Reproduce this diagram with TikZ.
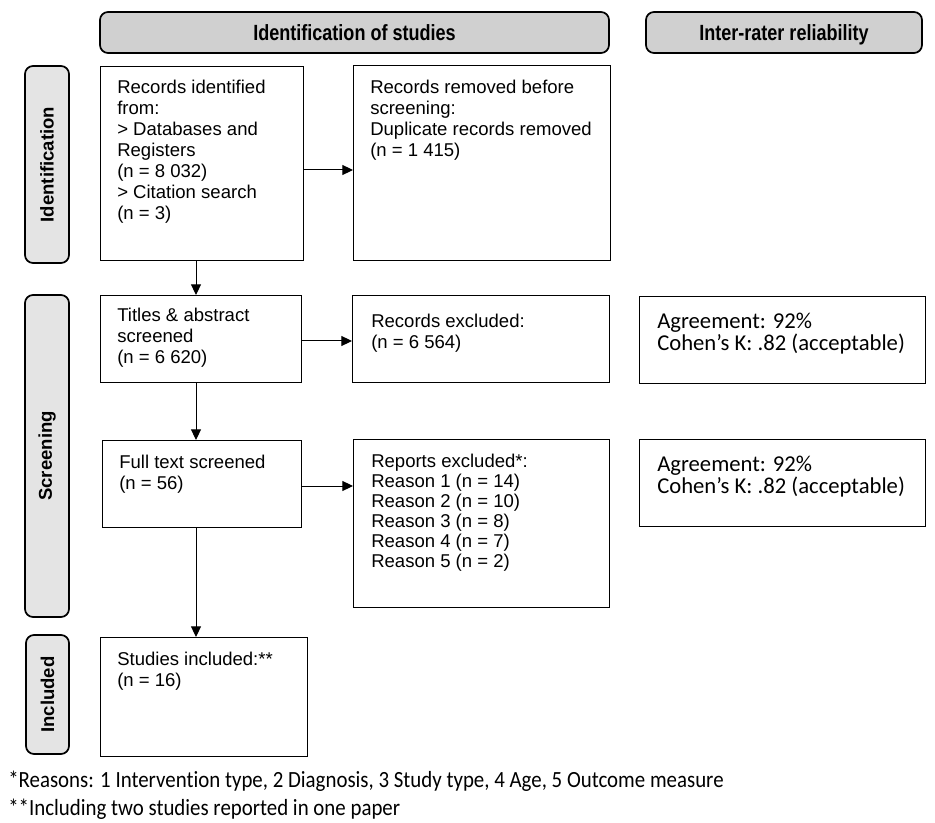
\documentclass[tikz,border=0pt]{standalone}
\usepackage{fontspec}
\setmainfont{Liberation Sans}
\newfontfamily\headfam[FakeStretch=0.82]{Liberation Sans}
\newfontfamily\calfam[Ligatures=CommonOff]{Carlito}
\newfontfamily\notefam[FakeStretch=0.9,Ligatures=CommonOff]{Carlito}
\usetikzlibrary{arrows.meta,positioning}

\definecolor{headgray}{RGB}{208,208,208}
\definecolor{sidegray}{RGB}{228,228,228}
\newcommand\pxu{0.75pt}

\tikzset{
  box/.style={draw, line width=1.1pt, anchor=north west, inner sep=0pt},
  boxtext/.style={anchor=north west, inner sep=0pt, align=left,
    font=\fontsize{13.9pt}{15.75pt}\selectfont},
  irrtext/.style={anchor=north west, inner sep=0pt, align=left,
    font=\calfam\fontsize{17pt}{16.5pt}\selectfont},
  header/.style={draw, line width=1.3pt, rounded corners=6pt, fill=headgray,
    text height=11.8pt, text depth=0pt,
    font=\headfam\bfseries\fontsize{16.5pt}{19pt}\selectfont},
  side/.style={draw, line width=1.3pt, rounded corners=6pt, fill=sidegray, rotate=90,
    font=\bfseries\fontsize{13.9pt}{16pt}\selectfont},
  flow/.style={-{Triangle[length=8pt,width=7.5pt]}, line width=0.75pt},
  note/.style={anchor=base west, inner sep=0pt,
    font=\notefam\fontsize{17.4pt}{20pt}\selectfont}
}

\begin{document}
\begin{tikzpicture}[x=0.75pt, y=-0.75pt]
  \useasboundingbox (0,0) rectangle (935,823);

  % column headers
  \node[header, minimum width=509*\pxu, minimum height=41*\pxu] (headid) at (354.5,32.5) {Identification of studies};
  \node[header, minimum width=276*\pxu, minimum height=41*\pxu] (headirr) at (784,32.5) {Inter-rater reliability};

  % phase labels
  \node[side, minimum width=197*\pxu, minimum height=44*\pxu] (sideident) at (47,164.5) {Identification};
  \node[side, minimum width=322*\pxu, minimum height=44*\pxu] (sidescreen) at (47,456) {Screening};
  \node[side, minimum width=119*\pxu, minimum height=43*\pxu] (sideincl) at (47.5,694.5) {Included};

  % main column
  \node[box, minimum width=203*\pxu, minimum height=194*\pxu] (ident) at (100,66) {};
  \node[boxtext] (identtxt) at ([shift={(17,14)}]ident.north west)
    {Records identified\\from:\\> Databases and\\Registers\\(n = 8 032)\\> Citation search\\(n = 3)};

  \node[box, minimum width=201*\pxu, minimum height=87*\pxu] (titles) at (100,295) {};
  \node[boxtext] (titlestxt) at ([shift={(17,13)}]titles.north west)
    {Titles \& abstract\\screened\\(n = 6 620)};

  \node[box, minimum width=199*\pxu, minimum height=87*\pxu] (full) at (102,440) {};
  \node[boxtext] (fulltxt) at ([shift={(17,15)}]full.north west)
    {Full text screened\\(n = 56)};

  \node[box, minimum width=207*\pxu, minimum height=119*\pxu] (studies) at (100,637) {};
  \node[boxtext] (studiestxt) at ([shift={(17,15)}]studies.north west)
    {Studies included:**\\(n = 16)};

  % exclusions
  \node[box, minimum width=257*\pxu, minimum height=195*\pxu] (removed) at (353,65) {};
  \node[boxtext] (removedtxt) at ([shift={(17,15)}]removed.north west)
    {Records removed before\\screening:\\Duplicate records removed\\(n = 1 415)};

  \node[box, minimum width=257*\pxu, minimum height=87*\pxu] (excluded) at (352,295) {};
  \node[boxtext] (excludedtxt) at ([shift={(19,19)}]excluded.north west)
    {Records excluded:\\(n = 6 564)};

  \node[box, minimum width=256*\pxu, minimum height=168*\pxu] (reports) at (353,439) {};
  \node[boxtext, font=\fontsize{13.9pt}{15pt}\selectfont] (reportstxt) at ([shift={(18,15)}]reports.north west)
    {Reports excluded*:\\Reason 1 (n = 14)\\Reason 2 (n = 10)\\Reason 3 (n = 8)\\Reason 4 (n = 7)\\Reason 5 (n = 2)};

  % reliability
  \node[box, minimum width=286*\pxu, minimum height=87*\pxu] (irrone) at (639,296) {};
  \node[irrtext] (irronetxt) at ([shift={(18,17)}]irrone.north west)
    {Agreement: 92\%\\Cohen’s K: .82 (acceptable)};

  \node[box, minimum width=286*\pxu, minimum height=87*\pxu] (irrtwo) at (639,439) {};
  \node[irrtext] (irrtwotxt) at ([shift={(18,17)}]irrtwo.north west)
    {Agreement: 92\%\\Cohen’s K: .82 (acceptable)};

  % connectors
  \coordinate (spine) at (196,0);
  \coordinate (rowone) at (0,170);
  \coordinate (rowtwo) at (0,341);
  \coordinate (rowthree) at (0,486);
  \draw[flow] (ident.south -| spine) -- (titles.north -| spine);
  \draw[flow] (titles.south -| spine) -- (full.north -| spine);
  \draw[flow] (full.south -| spine) -- (studies.north -| spine);
  \draw[flow] (ident.east |- rowone) -- (removed.west |- rowone);
  \draw[flow] (titles.east |- rowtwo) -- (excluded.west |- rowtwo);
  \draw[flow] (full.east |- rowthree) -- (reports.west |- rowthree);

  % footnotes
  \node[note] (noteone) at (8,787) {*Reasons: 1 Intervention type, 2 Diagnosis, 3 Study type, 4 Age, 5 Outcome measure};
  \node[note] (notetwo) at (8,815) {**Including two studies reported in one paper};
\end{tikzpicture}
\end{document}
